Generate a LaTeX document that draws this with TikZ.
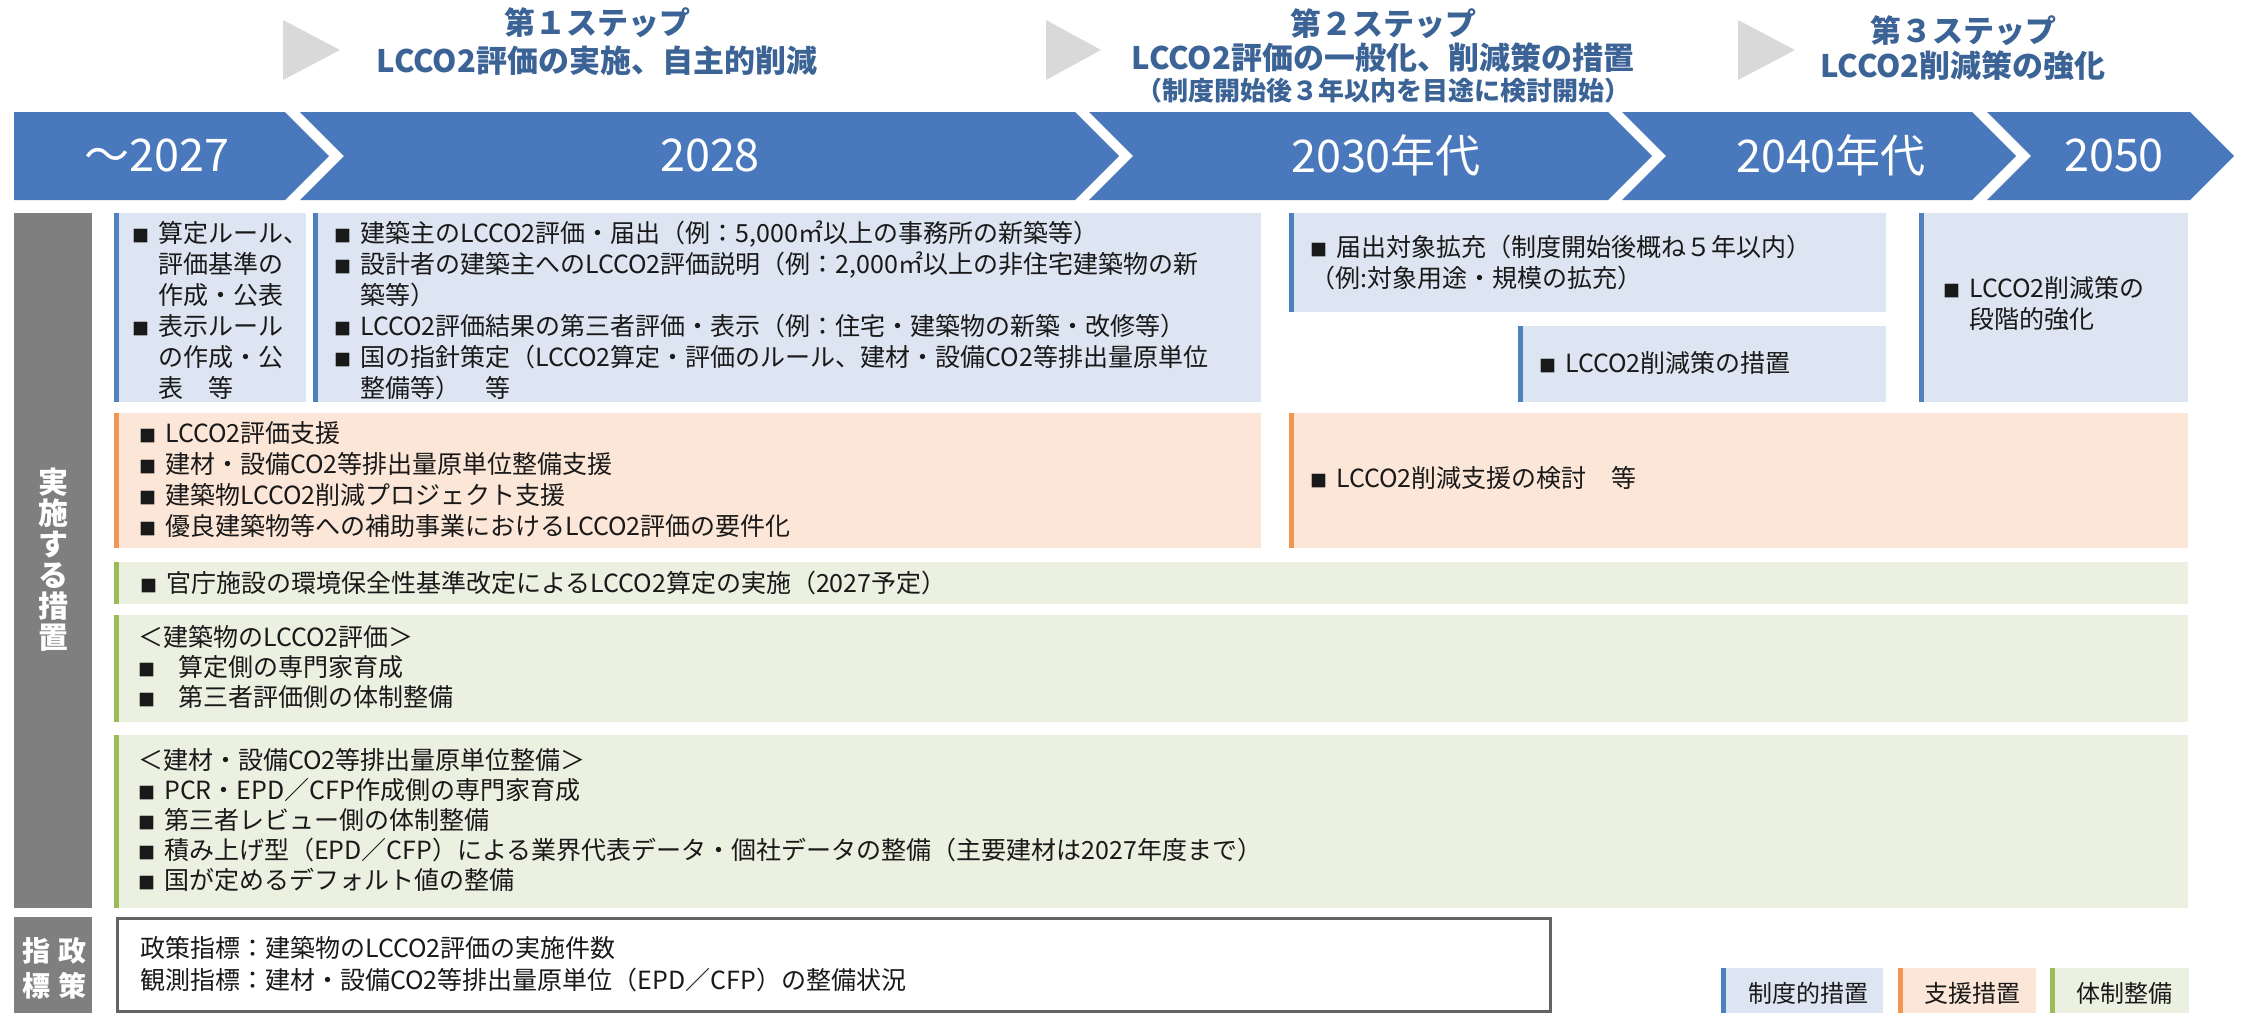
\documentclass[tikz,border=0pt]{standalone}
\usepackage{fontspec}
\setmainfont{Noto Sans CJK JP}
\definecolor{barblue}{RGB}{73,121,188}
\definecolor{steptxt}{RGB}{59,99,150}
\definecolor{tri}{RGB}{217,217,217}
\definecolor{sidegray}{RGB}{127,127,127}
\definecolor{bluefill}{RGB}{220,229,241}
\definecolor{blueacc}{RGB}{79,129,189}
\definecolor{orfill}{RGB}{252,230,215}
\definecolor{oracc}{RGB}{240,150,80}
\definecolor{grfill}{RGB}{235,240,224}
\definecolor{gracc}{RGB}{155,187,89}
\definecolor{txtc}{RGB}{25,25,25}
\definecolor{framegray}{RGB}{100,100,100}
\newcommand{\bu}{{\fontsize{17}{17}\selectfont ■}\hspace{9pt}}
\newcommand{\ind}{\phantom{\bu}}
\newcommand{\accbox}[6]{\fill[#1] (#3,#4) rectangle (#5,#6); \fill[#2] (#3,#4) rectangle ({#3+5},#6);}
\begin{document}
\begin{tikzpicture}[x=1pt,y=-1pt,
  txt/.style={anchor=west,inner sep=0pt,align=left,text=txtc,font=\fontsize{25}{31}\selectfont},
  txtg/.style={txt,font=\fontsize{25}{30}\selectfont},
  steptitle/.style={inner sep=0pt,text=steptxt,font=\bfseries\fontsize{31}{31}\selectfont},
  year/.style={inner sep=0pt,text=white,font=\fontsize{45}{45}\selectfont},
  sidelab/.style={inner sep=0pt,text=white,align=center,font=\bfseries\fontsize{30}{31}\selectfont},
  legtxt/.style={inner sep=0pt,text=txtc,font=\fontsize{24}{24}\selectfont}]
\useasboundingbox (0,0) rectangle (2241,1013);
\fill[white] (0,0) rectangle (2241,1013);
% step triangles
\fill[tri] (283,20) -- (340,50) -- (283,80) -- cycle;
\fill[tri] (1046,20) -- (1101,50) -- (1046,80) -- cycle;
\fill[tri] (1738,20) -- (1795,50) -- (1738,80) -- cycle;
% step titles
\node[steptitle] (s1a) at (597,23) {第１ステップ};
\node[steptitle] (s1b) at (597,61) {LCCO2評価の実施、自主的削減};
\node[steptitle] (s2a) at (1383,24) {第２ステップ};
\node[steptitle] (s2b) at (1383,58) {LCCO2評価の一般化、削減策の措置};
\node[steptitle,font=\bfseries\fontsize{26}{26}\selectfont] (s2c) at (1383,91) {（制度開始後３年以内を目途に検討開始）};
\node[steptitle] (s3a) at (1963,31) {第３ステップ};
\node[steptitle] (s3b) at (1963,66) {LCCO2削減策の強化};
% chevron bar
\fill[barblue] (14,112) -- (285,112) -- (329,156) -- (285,200) -- (14,200) -- cycle;
\fill[barblue] (300,112) -- (1075,112) -- (1119,156) -- (1075,200) -- (300,200) -- (344,156) -- cycle;
\fill[barblue] (1089,112) -- (1608,112) -- (1652,156) -- (1608,200) -- (1089,200) -- (1133,156) -- cycle;
\fill[barblue] (1622,112) -- (1972,112) -- (2016,156) -- (1972,200) -- (1622,200) -- (1666,156) -- cycle;
\fill[barblue] (1987,112) -- (2190,112) -- (2234,156) -- (2190,200) -- (1987,200) -- (2031,156) -- cycle;
\node[year] (y1) at (157,155) {～2027};
\node[year] (y2) at (710,155) {2028};
\node[year] (y3) at (1386,155) {2030年代};
\node[year] (y4) at (1831,155) {2040年代};
\node[year] (y5) at (2114,155) {2050};
% side bars
\fill[sidegray] (14,213) rectangle (92,908);
\fill[sidegray] (14,917) rectangle (92,1013);
\node[sidelab] (side) at (53,560) {実\\施\\す\\る\\措\\置};
\node[sidelab,font=\bfseries\fontsize{28}{28}\selectfont] (sk1) at (72,951) {政};
\node[sidelab,font=\bfseries\fontsize{28}{28}\selectfont] (sk2) at (72,986) {策};
\node[sidelab,font=\bfseries\fontsize{28}{28}\selectfont] (sk3) at (36,951) {指};
\node[sidelab,font=\bfseries\fontsize{28}{28}\selectfont] (sk4) at (36,986) {標};
% blue boxes
\accbox{bluefill}{blueacc}{114}{213}{306}{402}
\accbox{bluefill}{blueacc}{313}{213}{1261}{402}
\accbox{bluefill}{blueacc}{1289}{213}{1886}{312}
\accbox{bluefill}{blueacc}{1518}{326}{1886}{402}
\accbox{bluefill}{blueacc}{1919}{213}{2188}{402}
\node[txt] (tA) at (132,310.5) {\bu 算定ルール、\\\ind 評価基準の\\\ind 作成・公表\\\bu 表示ルール\\\ind の作成・公\\\ind 表　等};
\node[txt] (tB) at (334,310.5) {\bu 建築主のLCCO2評価・届出（例：5,000㎡以上の事務所の新築等）\\\bu 設計者の建築主へのLCCO2評価説明（例：2,000㎡以上の非住宅建築物の新\\\ind 築等）\\\bu LCCO2評価結果の第三者評価・表示（例：住宅・建築物の新築・改修等）\\\bu 国の指針策定（LCCO2算定・評価のルール、建材・設備CO2等排出量原単位\\\ind 整備等）　等};
\node[txt] (tC) at (1310,262.5) {\bu 届出対象拡充（制度開始後概ね５年以内）\\（例:対象用途・規模の拡充）};
\node[txt] (tD) at (1539,363) {\bu LCCO2削減策の措置};
\node[txt] (tE) at (1943,303.5) {\bu LCCO2削減策の\\\ind 段階的強化};
% orange boxes
\accbox{orfill}{oracc}{114}{413}{1261}{548}
\accbox{orfill}{oracc}{1289}{413}{2188}{548}
\node[txt] (tOL) at (139,479.5) {\bu LCCO2評価支援\\\bu 建材・設備CO2等排出量原単位整備支援\\\bu 建築物LCCO2削減プロジェクト支援\\\bu 優良建築物等への補助事業におけるLCCO2評価の要件化};
\node[txt] (tOR) at (1310,478) {\bu LCCO2削減支援の検討　等};
% green boxes
\accbox{grfill}{gracc}{114}{562}{2188}{604}
\accbox{grfill}{gracc}{114}{615}{2188}{722}
\accbox{grfill}{gracc}{114}{735}{2188}{908}
\node[txt] (tG1) at (140,583) {\bu 官庁施設の環境保全性基準改定によるLCCO2算定の実施（2027予定）};
\node[txtg] (tG2) at (138,666.5) {＜建築物のLCCO2評価＞\\\bu\hspace{14pt}算定側の専門家育成\\\bu\hspace{14pt}第三者評価側の体制整備};
\node[txtg] (tG3) at (138,820) {＜建材・設備CO2等排出量原単位整備＞\\\bu PCR・EPD／CFP作成側の専門家育成\\\bu 第三者レビュー側の体制整備\\\bu 積み上げ型（EPD／CFP）による業界代表データ・個社データの整備（主要建材は2027年度まで）\\\bu 国が定めるデフォルト値の整備};
% policy box
\draw[framegray,line width=3pt,fill=white] (117,918) rectangle (1550,1011);
\node[txt,font=\fontsize{25}{32}\selectfont] (tP) at (140,964) {政策指標：建築物のLCCO2評価の実施件数\\観測指標：建材・設備CO2等排出量原単位（EPD／CFP）の整備状況};
% legend
\accbox{bluefill}{blueacc}{1721}{968}{1883}{1013}
\accbox{orfill}{oracc}{1898}{968}{2036}{1013}
\accbox{grfill}{gracc}{2050}{968}{2189}{1013}
\node[legtxt] (l1) at (1808,993) {制度的措置};
\node[legtxt] (l2) at (1972,993) {支援措置};
\node[legtxt] (l3) at (2124,993) {体制整備};
\end{tikzpicture}
\end{document}
